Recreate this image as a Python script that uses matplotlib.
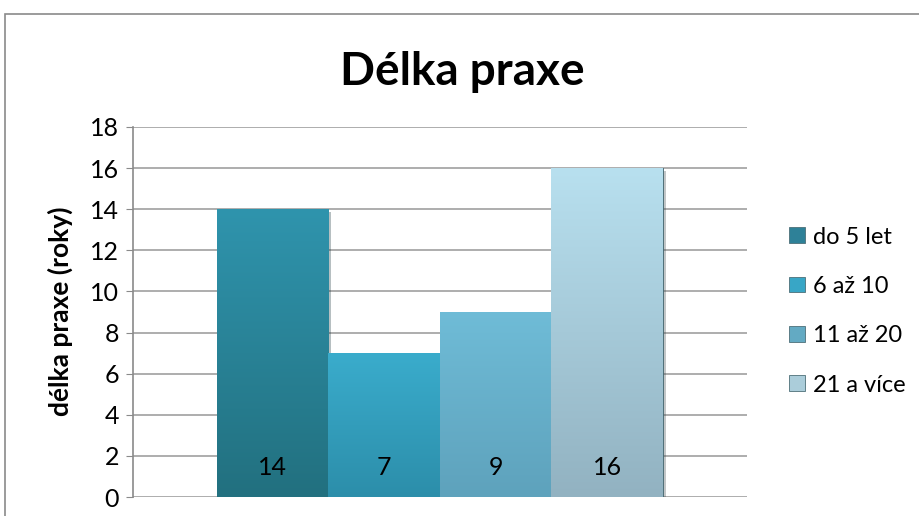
import matplotlib.pyplot as plt
import matplotlib.patheffects as pe
from matplotlib.colors import LinearSegmentedColormap
from matplotlib.patches import Rectangle
import numpy as np

# data
title = "Délka praxe"
ylabel = "délka praxe (roky)"
series = ["do 5 let", "6 až 10", "11 až 20", "21 a více"]
values = [14, 7, 9, 16]
top_colors = ["#2f94ad", "#3aaccc", "#6fbcd7", "#b8e0ef"]
bottom_colors = ["#22707f", "#2c8eaa", "#5ea2bc", "#92b2c1"]
legend_colors = ["#2e8198", "#38a6c6", "#63aac3", "#abcdda"]

plt.rcParams['font.family'] = ['Lato', 'DejaVu Sans']

fig = plt.figure(figsize=(9.19, 5.16), dpi=100)
ax = fig.add_axes([0.1447, 0.0368, 0.8128 - 0.1447, 0.7539 - 0.0368])

# outer chart frame
fig.patches.append(Rectangle((5 / 919, -0.2), 1.2, 1.2 - 14 / 516, transform=fig.transFigure,
                             fill=False, edgecolor="#8a8a8a", linewidth=1.2))

n = len(values)
width = 0.18
xs = (np.arange(n) - (n - 1) / 2) * width
grad = np.linspace(1, 0, 256).reshape(-1, 1)

for i in range(n):
    bar = ax.bar(xs[i], values[i], width=width, color=top_colors[i], edgecolor="#3d5f68",
                 linewidth=0.6, zorder=3, label=series[i])[0]
    bar.set_path_effects([pe.SimplePatchShadow(offset=(2, -2), alpha=0.3), pe.Normal()])
    cmap = LinearSegmentedColormap.from_list("g%d" % i, [bottom_colors[i], top_colors[i]])
    x0, y0, w, h = bar.get_x(), bar.get_y(), bar.get_width(), bar.get_height()
    im = ax.imshow(grad, cmap=cmap, extent=(x0, x0 + w, y0, y0 + h), aspect="auto",
                   zorder=3.5, interpolation="bicubic")
    im.set_clip_path(bar)
    ax.annotate(str(values[i]), (xs[i], 0), xytext=(0, 21), textcoords="offset points",
                ha="center", va="center", fontsize=18, color="black", zorder=5)

ax.set_xlim(-0.5 * 614 / 446 * width * n, 0.5 * 614 / 446 * width * n)
ax.set_ylim(0, 18)
ax.set_yticks(range(0, 19, 2))
ax.set_xticks([])
ax.tick_params(axis="y", labelsize=18, length=5, color="#8a8a8a", pad=5)
ax.grid(axis="y", color="#a0a0a0", linewidth=1.2, zorder=0)
ax.set_axisbelow(True)
for s in ["top", "right", "bottom"]:
    ax.spines[s].set_visible(False)
ax.spines["left"].set_color("#8a8a8a")
ax.spines["left"].set_linewidth(1.2)

fig.text(462 / 919, 1 - 72 / 516, title, ha="center", va="center", fontsize=33, fontweight="bold")
fig.text(60 / 919, 1 - 311 / 516, ylabel, ha="center", va="center", rotation=90,
         fontsize=19, fontweight="bold")

handles = [Rectangle((0, 0), 1, 1, facecolor=c, edgecolor="#4d6f78", linewidth=0.6)
           for c in legend_colors]
fig.legend(handles, series, loc="center left", bbox_to_anchor=(768 / 919, 1 - 311 / 516),
           frameon=False, fontsize=17, handlelength=0.65, handleheight=0.65,
           handletextpad=0.35, labelspacing=1.2)

fig.savefig("out.png", dpi=100)
